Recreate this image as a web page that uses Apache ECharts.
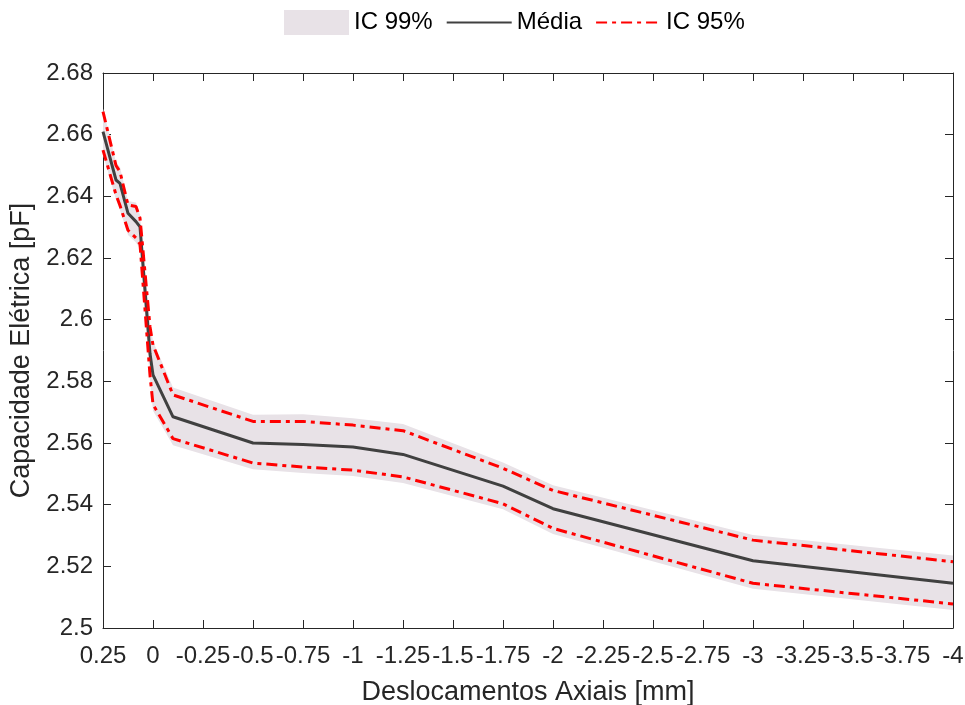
<!DOCTYPE html>
<html>
<head>
<meta charset="utf-8">
<script src="https://cdn.jsdelivr.net/npm/echarts@6/dist/echarts.min.js"></script>
<style>
  html, body { margin: 0; padding: 0; background: #fff; }
  #chart { width: 965px; height: 705px; }
</style>
</head>
<body>
<div id="chart"></div>
<script>
// deslocamentos axiais [mm]
const xs = [0.25, 0.185, 0.165, 0.125, 0.085, 0.065, 0.015, 0, -0.1, -0.5, -0.75, -1, -1.25, -1.75, -2, -3, -4];
// capacidade media [pF]
const media = [2.661, 2.6453, 2.6442, 2.6345, 2.6318, 2.6301, 2.589, 2.5821, 2.5685, 2.5600, 2.5595, 2.5587, 2.5563, 2.5460, 2.5387, 2.5218, 2.5145];
// IC 95%
const ic95Sup = [2.6675, 2.650, 2.648, 2.6372, 2.6367, 2.633, 2.5977, 2.5918, 2.5756, 2.5670, 2.5670, 2.5658, 2.5640, 2.5518, 2.5446, 2.5285, 2.5215];
const ic95Inf = [2.655, 2.6405, 2.637, 2.629, 2.6265, 2.6245, 2.582, 2.5725, 2.5614, 2.5535, 2.5522, 2.5512, 2.549, 2.5403, 2.5323, 2.5145, 2.5078];
// IC 99%
const ic99Sup = [2.6685, 2.651, 2.6495, 2.6385, 2.638, 2.634, 2.599, 2.593, 2.578, 2.5692, 2.5693, 2.5680, 2.5662, 2.5537, 2.5463, 2.5302, 2.5235];
const ic99Inf = [2.6535, 2.639, 2.6355, 2.6275, 2.625, 2.623, 2.580, 2.5705, 2.5593, 2.5515, 2.5503, 2.5493, 2.5470, 2.5385, 2.5305, 2.5127, 2.5058];

const font = "'Liberation Sans', Arial, sans-serif";
const axisColor = "#262626";
const bandColor = "#e8e2e7";

let myChart = echarts.init(document.getElementById("chart"));

const pairs = arr => xs.map((x, i) => [x, arr[i]]);
const fmt = v => String(+v.toFixed(2));

const xBase = {
  type: "value",
  min: -4,
  max: 0.25,
  interval: 0.25,
  inverse: true,
  splitLine: { show: false },
  axisLine: { onZero: false, lineStyle: { color: axisColor, width: 1 } },
  axisTick: { inside: true, length: 8, lineStyle: { color: axisColor } }
};
const yBase = {
  type: "value",
  min: 2.5,
  max: 2.68,
  interval: 0.02,
  splitLine: { show: false },
  axisLine: { onZero: false, lineStyle: { color: axisColor, width: 1 } },
  axisTick: { inside: true, length: 8, lineStyle: { color: axisColor } }
};

myChart.setOption({
  animation: false,
  textStyle: { fontFamily: font },
  grid: { left: 103, right: 12, top: 73, bottom: 77, outerBoundsMode: "none", containLabel: false },
  legend: {
    top: 5,
    left: 279,
    itemWidth: 65,
    itemHeight: 25,
    itemGap: 13,
    textStyle: { fontSize: 24, color: "#000", fontFamily: font },
    data: [
      { name: "IC 99%", icon: "rect" },
      { name: "Média", itemStyle: { opacity: 0 } },
      { name: "IC 95%", itemStyle: { opacity: 0 } }
    ]
  },
  xAxis: [
    Object.assign({}, xBase, {
      position: "bottom",
      name: "Deslocamentos Axiais [mm]",
      nameLocation: "middle",
      nameGap: 51,
      nameTextStyle: { fontSize: 27, color: "#262626", fontFamily: font },
      axisLabel: { fontSize: 24, color: "#262626", margin: 16, formatter: fmt }
    }),
    Object.assign({}, xBase, { position: "top", axisLabel: { show: false } })
  ],
  yAxis: [
    Object.assign({}, yBase, {
      position: "left",
      name: "Capacidade Elétrica [pF]",
      nameLocation: "middle",
      nameGap: 68,
      nameTextStyle: { fontSize: 27, color: "#262626", fontFamily: font },
      axisLabel: { fontSize: 24, color: "#262626", margin: 10, formatter: fmt }
    }),
    Object.assign({}, yBase, { position: "right", axisLabel: { show: false } })
  ],
  series: [
    {
      name: "IC 99%",
      type: "custom",
      itemStyle: { color: bandColor },
      data: xs.map((x, i) => [x, ic99Inf[i], ic99Sup[i]]),
      encode: { x: 0, y: [1, 2] },
      z: 1,
      renderItem: function(params, api) {
        if (params.dataIndex !== 0) return null;
        let pts = [];
        for (let i = 0; i < xs.length; i++) pts.push(api.coord([xs[i], ic99Sup[i]]));
        for (let i = xs.length - 1; i >= 0; i--) pts.push(api.coord([xs[i], ic99Inf[i]]));
        return { type: "polygon", shape: { points: pts }, style: { fill: bandColor } };
      }
    },
    {
      name: "Média",
      type: "line",
      data: pairs(media),
      symbol: "none",
      z: 3,
      itemStyle: { color: "#404040" },
      lineStyle: { color: "#404040", width: 3 }
    },
    {
      name: "IC 95%",
      type: "line",
      data: pairs(ic95Sup),
      symbol: "none",
      z: 4,
      itemStyle: { color: "#ff0000" },
      lineStyle: { color: "#ff0000", width: 3, type: [11, 5, 4, 5] }
    },
    {
      name: "IC 95%",
      type: "line",
      data: pairs(ic95Inf),
      symbol: "none",
      z: 4,
      itemStyle: { color: "#ff0000" },
      lineStyle: { color: "#ff0000", width: 3, type: [11, 5, 4, 5] }
    }
  ]
});
</script>
</body>
</html>
